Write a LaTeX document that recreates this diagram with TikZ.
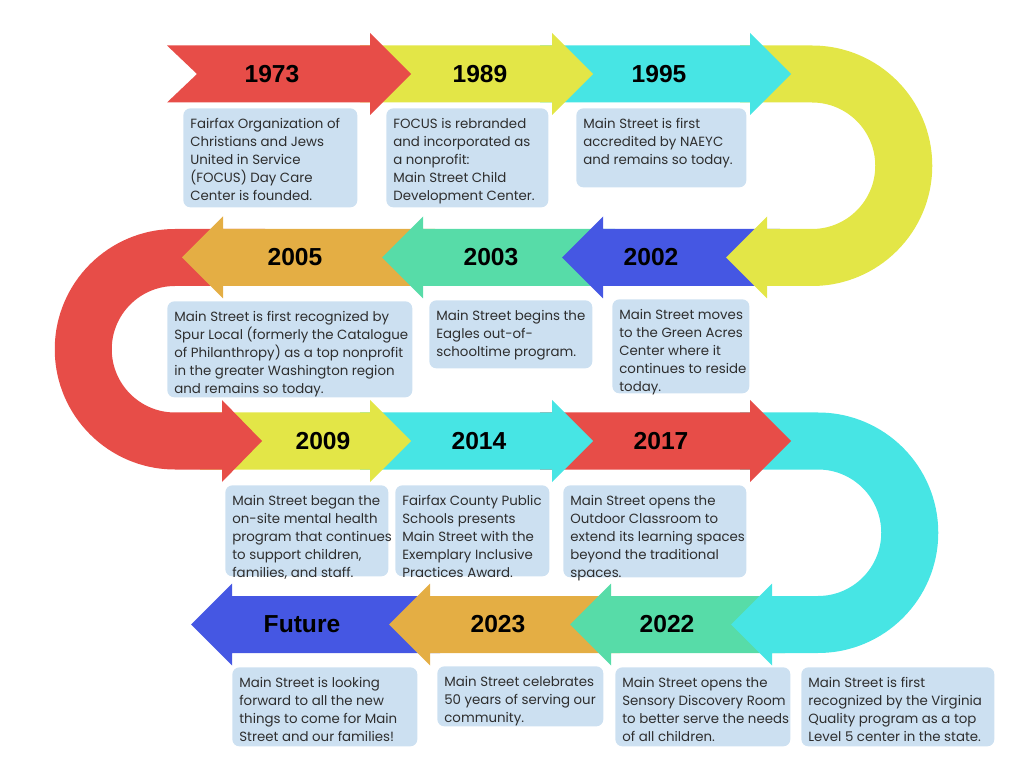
\documentclass[tikz,border=0pt]{standalone}
\usepackage{fontspec}
\setmainfont{Poppins}
\newfontfamily\yearfont{Liberation Sans}
\usepackage{tikz}
\usetikzlibrary{positioning}
\definecolor{MSRed}{HTML}{E74D48}
\definecolor{MSYellow}{HTML}{E3E647}
\definecolor{MSCyan}{HTML}{47E5E4}
\definecolor{MSBlue}{HTML}{4557E3}
\definecolor{MSGreen}{HTML}{57DCA8}
\definecolor{MSOrange}{HTML}{E4AE44}
\definecolor{NoteBlue}{HTML}{CCE0F1}
\definecolor{Ink}{HTML}{2E2E2E}

% band arrows: colour, tail x, head base x, centre y (, notch)
\newcommand{\barright}[5]{\fill[#1] (#2,#4-28.5) -- (#3,#4-28.5) -- (#3,#4-41) -- (#3+41,#4) -- (#3,#4+41) -- (#3,#4+28.5) -- (#2,#4+28.5) -- (#2+#5,#4) -- cycle;}
\newcommand{\barleft}[4]{\fill[#1] (#2,#4+28.5) -- (#3,#4+28.5) -- (#3,#4+41) -- (#3-41,#4) -- (#3,#4-41) -- (#3,#4-28.5) -- (#2,#4-28.5) -- cycle;}
% note text: height, width, lines
\newcommand{\notetext}[3]{\parbox[t][#1][t]{#2}{\begin{tabular}[t]{@{}l@{}}#3\end{tabular}}}

\begin{document}
\begin{tikzpicture}[x=0.02cm, y=0.02cm]
        \tikzstyle{year} = [font=\yearfont\fontsize{14}{16}\selectfont\bfseries, text=black]
        \tikzstyle{note} = [fill=NoteBlue, rounded corners=4pt, anchor=north west, inner xsep=0.14cm, inner ysep=0.16cm, font=\fontsize{7.6}{10.2}\selectfont, text=Ink]

        \useasboundingbox (0,0) rectangle (1024,768);

        % Row 4 (right to left)
        \barleft{MSBlue}{440}{232}{143.5}
        \barleft{MSOrange}{620}{430}{143.5}
        \barleft{MSGreen}{785}{611}{143.5}

        % Cyan turn
        \fill[MSCyan] (740,355.5) -- (818,355.5) arc[start angle=90, end angle=-90, radius=120.25] -- (772,115) -- (772,102.5) -- (731,143.5) -- (772,184.5) -- (772,172) -- (818,172) arc[start angle=-90, end angle=90, radius=63.25] -- (740,298.5) -- cycle;

        % Row 3 (left to right)
        \barright{MSRed}{540}{750}{327}{0}
        \barright{MSCyan}{360}{552}{327}{0}
        \barright{MSYellow}{200}{370}{327}{0}

        % Red turn
        \fill[MSRed] (265,539) -- (175,539) arc[start angle=90, end angle=270, radius=120.25] -- (222,298.5) -- (222,286) -- (262,327) -- (222,368) -- (222,355.5) -- (175,355.5) arc[start angle=270, end angle=90, radius=63.25] -- (265,482) -- cycle;

        % Row 2 (right to left)
        \barleft{MSOrange}{435}{223}{510.5}
        \barleft{MSGreen}{615}{423}{510.5}
        \barleft{MSBlue}{780}{603}{510.5}

        % Yellow turn
        \fill[MSYellow] (740,722.5) -- (812,722.5) arc[start angle=90, end angle=-90, radius=120.25] -- (767,482) -- (767,469.5) -- (726,510.5) -- (767,551.5) -- (767,539) -- (812,539) arc[start angle=-90, end angle=90, radius=63.25] -- (740,665.5) -- cycle;

        % Row 1 (left to right)
        \barright{MSCyan}{540}{750}{694}{0}
        \barright{MSYellow}{360}{552}{694}{0}
        \barright{MSRed}{167}{370}{694}{30}

        % Years
        \node[year] (y1973) at (272,694) {1973};
        \node[year] (y1989) at (480,694) {1989};
        \node[year] (y1995) at (659,694) {1995};
        \node[year] (y2005) at (295,510.5) {2005};
        \node[year] (y2003) at (491,510.5) {2003};
        \node[year] (y2002) at (651,510.5) {2002};
        \node[year] (y2009) at (323,327) {2009};
        \node[year] (y2014) at (479,327) {2014};
        \node[year] (y2017) at (661,327) {2017};
        \node[year] (yfuture) at (302,143.5) {Future};
        \node[year] (y2023) at (498,143.5) {2023};
        \node[year] (y2022) at (667,143.5) {2022};

        % Notes
        \node[note] (n1973) at (183,660) {\notetext{1.66cm}{3.2cm}{Fairfax Organization of\\ Christians and Jews\\ United in Service\\ (FOCUS) Day Care\\ Center is founded.}};
        \node[note] (n1989) at (386,660) {\notetext{1.66cm}{2.96cm}{FOCUS is rebranded\\ and incorporated as\\ a nonprofit:\\ Main Street Child\\ Development Center.}};
        \node[note] (n1995) at (576,660) {\notetext{1.26cm}{3.12cm}{Main Street is first\\ accredited by NAEYC\\ and remains so today.}};
        \node[note] (n2005) at (167,467) {\notetext{1.6cm}{4.62cm}{Main Street is first recognized by\\ Spur Local (formerly the Catalogue\\ of Philanthropy) as a top nonprofit\\ in the greater Washington region\\ and remains so today.}};
        \node[note] (n2003) at (429,468) {\notetext{1.04cm}{2.98cm}{Main Street begins the\\ Eagles out-of-\\ schooltime program.}};
        \node[note] (n2002) at (612,469) {\notetext{1.56cm}{2.46cm}{Main Street moves\\ to the Green Acres\\ Center where it\\ continues to reside\\ today.}};
        \node[note] (n2009) at (225,283) {\notetext{1.5cm}{2.98cm}{Main Street began the\\ on-site mental health\\ program that continues\\ to support children,\\ families, and staff.}};
        \node[note] (n2014) at (395,283) {\notetext{1.5cm}{2.8cm}{Fairfax County Public\\ Schools presents\\ Main Street with the\\ Exemplary Inclusive\\ Practices Award.}};
        \node[note] (n2017) at (563,283) {\notetext{1.52cm}{3.38cm}{Main Street opens the\\ Outdoor Classroom to\\ extend its learning spaces\\ beyond the traditional\\ spaces.}};
        \node[note] (nfuture) at (232,101) {\notetext{1.26cm}{3.42cm}{Main Street is looking\\ forward to all the new\\ things to come for Main\\ Street and our families!}};
        \node[note] (n2023) at (437,102) {\notetext{0.88cm}{3.04cm}{Main Street celebrates\\ 50 years of serving our\\ community.}};
        \node[note] (n2022) at (615,101) {\notetext{1.26cm}{3.22cm}{Main Street opens the\\ Sensory Discovery Room\\ to better serve the needs\\ of all children.}};
        \node[note] (nvirginia) at (801,101) {\notetext{1.26cm}{3.58cm}{Main Street is first\\ recognized by the Virginia\\ Quality program as a top\\ Level 5 center in the state.}};
    \end{tikzpicture}
\end{document}
